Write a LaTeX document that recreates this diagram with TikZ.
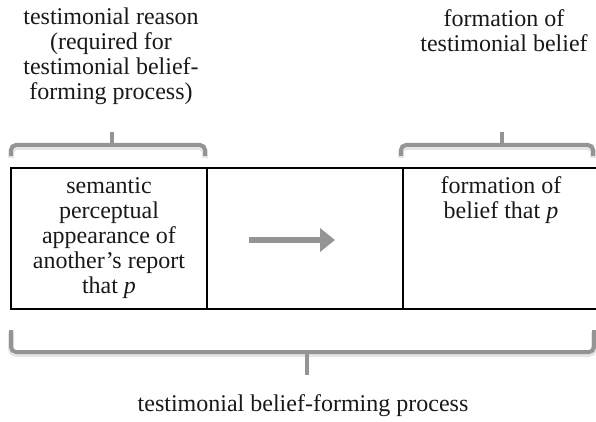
\documentclass[tikz,border=0pt]{standalone}
\usepackage{fontspec}
\setmainfont{Liberation Serif}
\usetikzlibrary{arrows.meta,positioning}

\tikzset{
  cell/.style = {draw, line width=2pt, minimum width=196pt, minimum height=141pt,
                 inner sep=0pt, outer sep=0pt},
  txt/.style = {align=center, inner sep=0pt, text=black!90,
                font=\fontsize{24}{25}\selectfont},
  brace/.style = {draw=black!42, line width=4pt, rounded corners=5pt},
  braceshadow/.style = {draw=black!10, line width=6pt, rounded corners=5pt}
}

\begin{document}
\begin{tikzpicture}[x=1pt, y=-1pt, >=Triangle]
  \useasboundingbox (0,0) rectangle (596,422);
  \clip (0,0) rectangle (596,422);

  % table
  \node[cell, anchor=north west] (c1) at (11,168) {};
  \node[cell, right=0pt of c1] (c2) {};
  \node[cell, right=0pt of c2] (c3) {};

  % base = baseline of the last line
  \node[txt, anchor=base] (reason) at (109,293)
    {semantic\\perceptual\\appearance of\\another's report\\that \textit{p}};
  \node[txt, anchor=base] (belief) at (501,218)
    {formation of\\belief that \textit{p}};

  % arrow in the middle cell
  \coordinate (arrS) at (249,240);
  \coordinate (arrE) at (335,240);
  \draw[draw=black!42, line width=5.5pt, -{Triangle[length=15pt,width=23pt]}] (arrS) -- (arrE);

  % brackets
  \draw[braceshadow, yshift=-2pt] (11,156) |- (205,145) -- (205,156);
  \draw[brace] (11,156) |- (205,145) -- (205,156);
  \draw[brace] (112,145) -- (112,132);
  \draw[braceshadow, yshift=-2pt] (401,156) |- (593,145) -- (593,156);
  \draw[brace] (401,156) |- (593,145) -- (593,156);
  \draw[brace] (502,145) -- (502,132);
  \draw[braceshadow, yshift=-2pt] (11,330) |- (594,352) -- (594,330);
  \draw[brace] (11,330) |- (594,352) -- (594,330);
  \draw[brace] (307,352) -- (307,375);

  % labels
  \node[txt, anchor=base] (topleft) at (111,100)
    {testimonial reason\\(required for\\testimonial belief-\\forming process)};
  \node[txt, anchor=base] (topright) at (504,52)
    {formation of\\testimonial belief};
  \node[txt, anchor=base] (bottom) at (303,411)
    {testimonial belief-forming process};
\end{tikzpicture}
\end{document}
